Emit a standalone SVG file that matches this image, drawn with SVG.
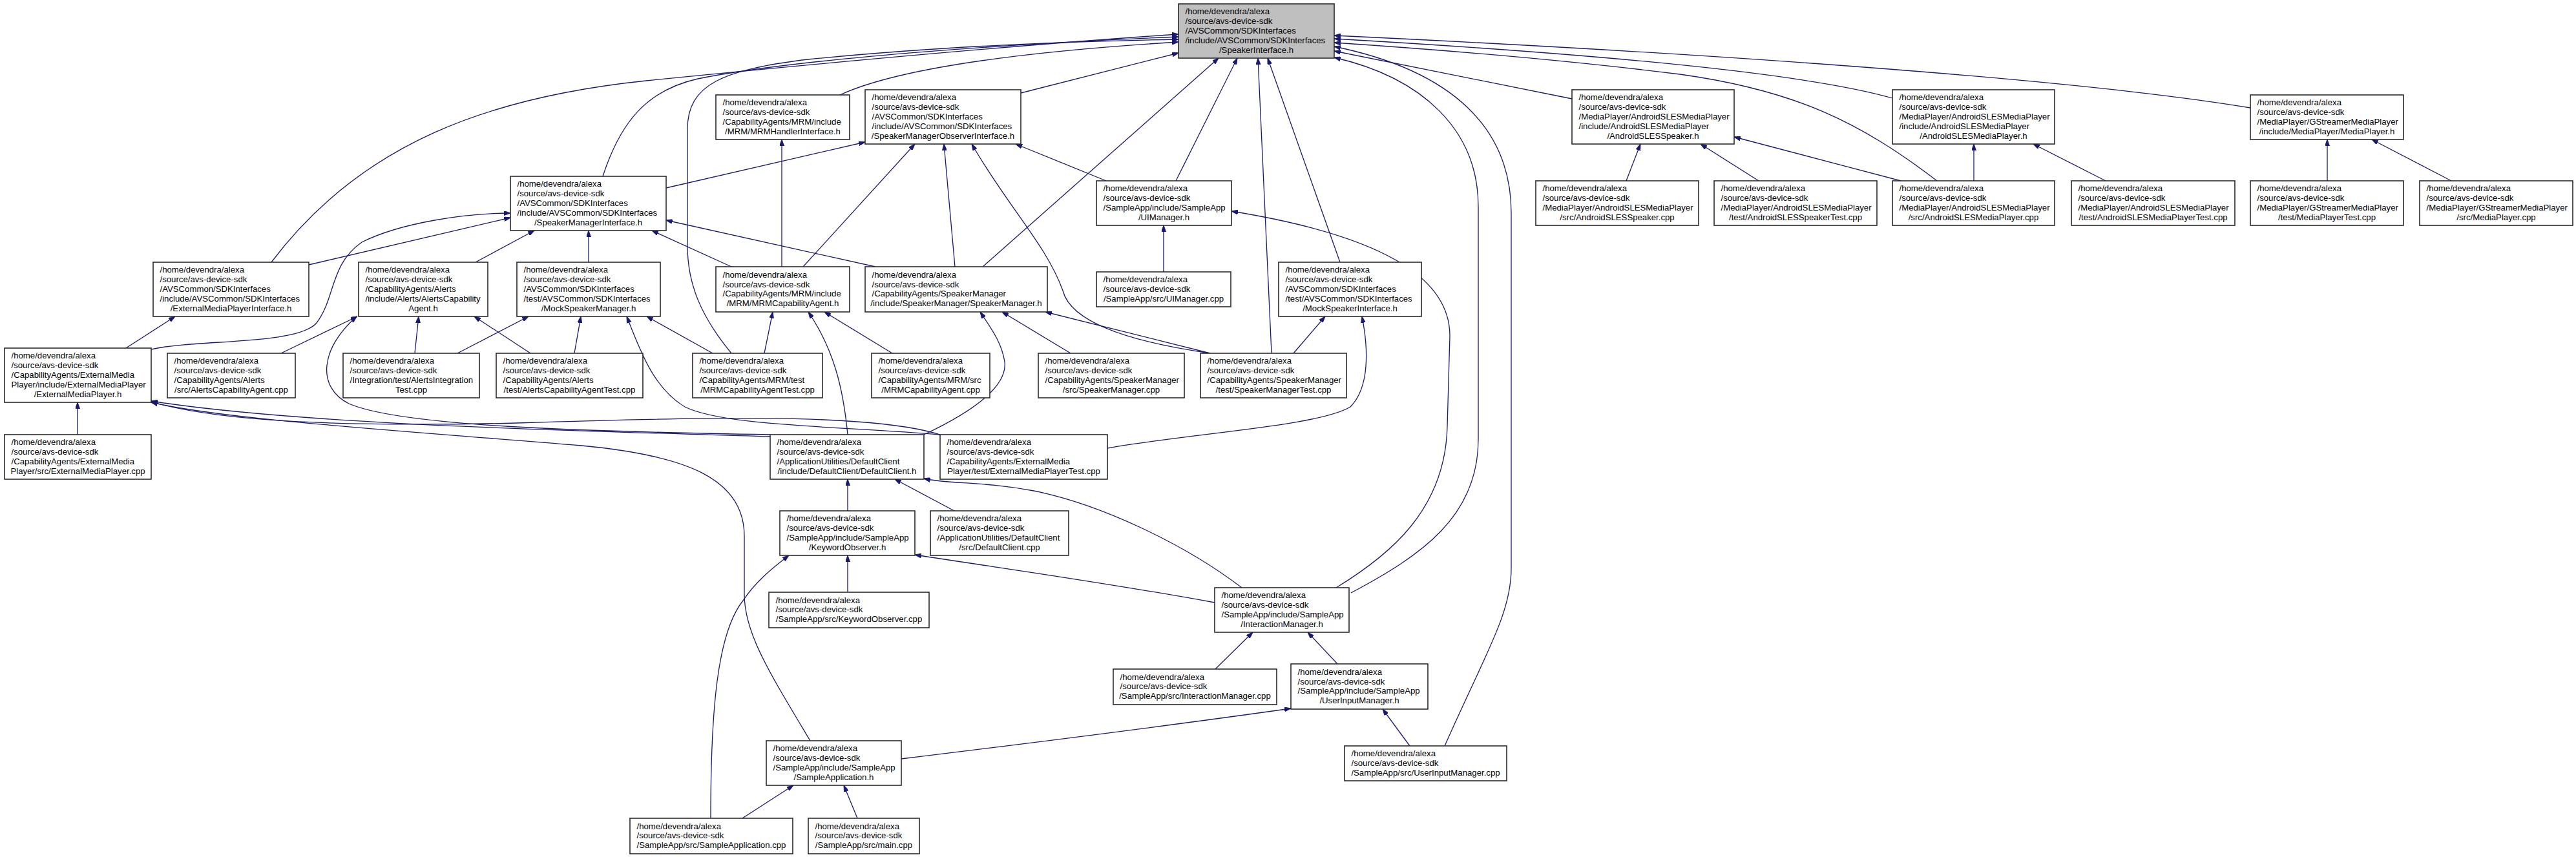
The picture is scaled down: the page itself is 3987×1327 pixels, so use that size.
<svg xmlns="http://www.w3.org/2000/svg" width="3987" height="1327" viewBox="0 0 3987 1327">
<style>
.n rect{fill:#ffffff;stroke:#2a2a2a;stroke-width:1.6}
.n.g rect{fill:#bfbfbf}
.n text{font-family:"Liberation Sans",Arial,sans-serif;font-size:13.2px;fill:#000}
.c{text-anchor:middle}
#edges path{fill:none;stroke:#191970;stroke-width:1.3;marker-end:url(#a)}
</style>
<defs>
<marker id="a" markerUnits="userSpaceOnUse" viewBox="0 0 10 7" refX="10" refY="3.5" markerWidth="10" markerHeight="7" orient="auto"><path d="M0,0 L10,3.5 L0,7 z" fill="#191970" stroke="#191970" stroke-width="1"/></marker>
</defs>
<rect width="3987" height="1327" fill="#ffffff"/>
<g id="edges">
<path d="M420,406 C560,220 760,150 1000,125 C1300,95 1600,68 1824,53"/>
<path d="M933,273 C960,190 1000,140 1080,122 C1250,88 1600,66 1824,57"/>
<path d="M1132,547 C1085,490 1064,440 1064,380 L1064,200 C1064,130 1120,108 1250,92 C1450,72 1650,64 1824,61"/>
<path d="M1300,147 C1380,110 1550,82 1824,65"/>
<path d="M1580,144 L1824,82"/>
<path d="M2433,153 L2065,79"/>
<path d="M2929,152 C2800,115 2500,85 2065,60"/>
<path d="M3483,167 C3200,120 2600,80 2065,55"/>
<path d="M2998,280 C2880,190 2780,140 2600,115 C2400,90 2200,75 2065,66"/>
<path d="M2091,918 C2200,860 2288,800 2288,680 L2288,320 C2288,200 2200,120 2065,89"/>
<path d="M2068,910 C2150,860 2237,790 2240,660 L2244,520 C2244,430 2140,365 1906,327"/>
<path d="M2236,1155 C2300,1010 2339,950 2339,880 L2339,330 C2339,200 2250,110 2065,72"/>
<path d="M1521,413 L1886,90"/>
<path d="M1820,280 L1915,90"/>
<path d="M1968,547 L1947,90"/>
<path d="M2074,406 L1962,90"/>
<path d="M1031,291 L1339,220"/>
<path d="M1243,413 L1416,223"/>
<path d="M1478,413 L1461,223"/>
<path d="M1873,547 C1720,525 1655,490 1645,450 C1620,380 1560,320 1504,223"/>
<path d="M1712,280 L1572,223"/>
<path d="M478,410 L790,337"/>
<path d="M234,541 C300,525 460,535 490,500 C520,460 510,410 560,375 C620,345 720,330 790,330"/>
<path d="M736,406 L827,357"/>
<path d="M911,406 L911,357"/>
<path d="M1132,413 L1009,357"/>
<path d="M1355,413 L1031,341"/>
<path d="M1210,413 L1210,216"/>
<path d="M435,547 L553,490"/>
<path d="M642,547 L648,490"/>
<path d="M821,547 L734,490"/>
<path d="M1192,673 C900,668 620,660 540,625 C490,600 495,540 552,490"/>
<path d="M708,547 L818,490"/>
<path d="M889,547 L899,490"/>
<path d="M1103,547 L1001,490"/>
<path d="M1455,673 C1300,660 1120,660 1060,630 C1010,600 990,540 970,490"/>
<path d="M1183,547 L1196,483"/>
<path d="M1381,547 L1276,483"/>
<path d="M1312,673 C1305,600 1290,540 1251,483"/>
<path d="M195,539 L271,490"/>
<path d="M120,673 L120,623"/>
<path d="M1192,676 C950,668 480,660 234,621"/>
<path d="M1455,673 C1350,640 1100,645 800,655 C500,662 330,650 234,622"/>
<path d="M1254,1147 C1190,1040 1152,980 1152,920 L1152,830 C1152,740 1060,705 900,690 C600,665 350,650 234,623"/>
<path d="M1657,547 L1551,483"/>
<path d="M1873,547 L1618,483"/>
<path d="M1430,673 C1500,640 1560,600 1555,560 C1550,530 1535,510 1517,483"/>
<path d="M2002,547 L2051,490"/>
<path d="M1714,694 C1850,670 2040,660 2090,630 C2120,600 2118,540 2108,490"/>
<path d="M1801,421 L1801,349"/>
<path d="M1312,791 L1312,742"/>
<path d="M1477,791 L1385,742"/>
<path d="M1922,910 C1830,840 1700,780 1600,760 C1520,745 1470,750 1430,741"/>
<path d="M1312,917 L1312,860"/>
<path d="M1880,933 C1700,900 1550,880 1416,859"/>
<path d="M1100,1267 C1100,1100 1110,980 1150,930 C1170,900 1195,880 1221,860"/>
<path d="M1881,1036 L1939,979"/>
<path d="M2070,1028 L2024,979"/>
<path d="M2182,1155 L2140,1098"/>
<path d="M1395,1175 C1600,1150 1800,1125 1998,1097"/>
<path d="M1149,1267 L1228,1216"/>
<path d="M1327,1267 L1306,1216"/>
<path d="M2517,280 L2539,223"/>
<path d="M2722,280 L2632,223"/>
<path d="M2942,280 L2684,212"/>
<path d="M3055,280 L3055,223"/>
<path d="M3259,280 L3147,223"/>
<path d="M3602,280 L3602,216"/>
<path d="M3794,280 L3671,216"/>
</g>
<g id="n0" class="n g"><rect x="1824" y="6" width="241" height="84"/><text><tspan x="1834.5" y="22.3">/home/devendra/alexa</tspan><tspan x="1834.5" y="37.1">/source/avs-device-sdk</tspan><tspan x="1834.5" y="51.9">/AVSCommon/SDKInterfaces</tspan><tspan x="1834.5" y="66.7">/include/AVSCommon/SDKInterfaces</tspan><tspan class="c" x="1944.5" y="81.5">/SpeakerInterface.h</tspan></text></g>
<g id="n1" class="n"><rect x="1108" y="147" width="207" height="69"/><text><tspan x="1118.5" y="163.2">/home/devendra/alexa</tspan><tspan x="1118.5" y="178">/source/avs-device-sdk</tspan><tspan x="1118.5" y="192.8">/CapabilityAgents/MRM/include</tspan><tspan class="c" x="1211.5" y="207.6">/MRM/MRMHandlerInterface.h</tspan></text></g>
<g id="n2" class="n"><rect x="1339" y="139" width="241" height="84"/><text><tspan x="1349.5" y="155.3">/home/devendra/alexa</tspan><tspan x="1349.5" y="170.1">/source/avs-device-sdk</tspan><tspan x="1349.5" y="184.9">/AVSCommon/SDKInterfaces</tspan><tspan x="1349.5" y="199.7">/include/AVSCommon/SDKInterfaces</tspan><tspan class="c" x="1459.5" y="214.5">/SpeakerManagerObserverInterface.h</tspan></text></g>
<g id="n3" class="n"><rect x="2433" y="139" width="251" height="84"/><text><tspan x="2443.5" y="155.3">/home/devendra/alexa</tspan><tspan x="2443.5" y="170.1">/source/avs-device-sdk</tspan><tspan x="2443.5" y="184.9">/MediaPlayer/AndroidSLESMediaPlayer</tspan><tspan x="2443.5" y="199.7">/include/AndroidSLESMediaPlayer</tspan><tspan class="c" x="2558.5" y="214.5">/AndroidSLESSpeaker.h</tspan></text></g>
<g id="n4" class="n"><rect x="2929" y="139" width="251" height="84"/><text><tspan x="2939.5" y="155.3">/home/devendra/alexa</tspan><tspan x="2939.5" y="170.1">/source/avs-device-sdk</tspan><tspan x="2939.5" y="184.9">/MediaPlayer/AndroidSLESMediaPlayer</tspan><tspan x="2939.5" y="199.7">/include/AndroidSLESMediaPlayer</tspan><tspan class="c" x="3054.5" y="214.5">/AndroidSLESMediaPlayer.h</tspan></text></g>
<g id="n5" class="n"><rect x="3483" y="147" width="237" height="69"/><text><tspan x="3493.5" y="163.2">/home/devendra/alexa</tspan><tspan x="3493.5" y="178">/source/avs-device-sdk</tspan><tspan x="3493.5" y="192.8">/MediaPlayer/GStreamerMediaPlayer</tspan><tspan class="c" x="3601.5" y="207.6">/include/MediaPlayer/MediaPlayer.h</tspan></text></g>
<g id="n6" class="n"><rect x="790" y="273" width="241" height="84"/><text><tspan x="800.5" y="289.3">/home/devendra/alexa</tspan><tspan x="800.5" y="304.1">/source/avs-device-sdk</tspan><tspan x="800.5" y="318.9">/AVSCommon/SDKInterfaces</tspan><tspan x="800.5" y="333.7">/include/AVSCommon/SDKInterfaces</tspan><tspan class="c" x="910.5" y="348.5">/SpeakerManagerInterface.h</tspan></text></g>
<g id="n7" class="n"><rect x="1697" y="280" width="209" height="69"/><text><tspan x="1707.5" y="296.2">/home/devendra/alexa</tspan><tspan x="1707.5" y="311">/source/avs-device-sdk</tspan><tspan x="1707.5" y="325.8">/SampleApp/include/SampleApp</tspan><tspan class="c" x="1801.5" y="340.6">/UIManager.h</tspan></text></g>
<g id="n8" class="n"><rect x="2377" y="280" width="252" height="69"/><text><tspan x="2387.5" y="296.2">/home/devendra/alexa</tspan><tspan x="2387.5" y="311">/source/avs-device-sdk</tspan><tspan x="2387.5" y="325.8">/MediaPlayer/AndroidSLESMediaPlayer</tspan><tspan class="c" x="2503" y="340.6">/src/AndroidSLESSpeaker.cpp</tspan></text></g>
<g id="n9" class="n"><rect x="2653" y="280" width="252" height="69"/><text><tspan x="2663.5" y="296.2">/home/devendra/alexa</tspan><tspan x="2663.5" y="311">/source/avs-device-sdk</tspan><tspan x="2663.5" y="325.8">/MediaPlayer/AndroidSLESMediaPlayer</tspan><tspan class="c" x="2779" y="340.6">/test/AndroidSLESSpeakerTest.cpp</tspan></text></g>
<g id="n10" class="n"><rect x="2929" y="280" width="251" height="69"/><text><tspan x="2939.5" y="296.2">/home/devendra/alexa</tspan><tspan x="2939.5" y="311">/source/avs-device-sdk</tspan><tspan x="2939.5" y="325.8">/MediaPlayer/AndroidSLESMediaPlayer</tspan><tspan class="c" x="3054.5" y="340.6">/src/AndroidSLESMediaPlayer.cpp</tspan></text></g>
<g id="n11" class="n"><rect x="3206" y="280" width="253" height="69"/><text><tspan x="3216.5" y="296.2">/home/devendra/alexa</tspan><tspan x="3216.5" y="311">/source/avs-device-sdk</tspan><tspan x="3216.5" y="325.8">/MediaPlayer/AndroidSLESMediaPlayer</tspan><tspan class="c" x="3332.5" y="340.6">/test/AndroidSLESMediaPlayerTest.cpp</tspan></text></g>
<g id="n12" class="n"><rect x="3483" y="280" width="237" height="69"/><text><tspan x="3493.5" y="296.2">/home/devendra/alexa</tspan><tspan x="3493.5" y="311">/source/avs-device-sdk</tspan><tspan x="3493.5" y="325.8">/MediaPlayer/GStreamerMediaPlayer</tspan><tspan class="c" x="3601.5" y="340.6">/test/MediaPlayerTest.cpp</tspan></text></g>
<g id="n13" class="n"><rect x="3745" y="280" width="237" height="69"/><text><tspan x="3755.5" y="296.2">/home/devendra/alexa</tspan><tspan x="3755.5" y="311">/source/avs-device-sdk</tspan><tspan x="3755.5" y="325.8">/MediaPlayer/GStreamerMediaPlayer</tspan><tspan class="c" x="3863.5" y="340.6">/src/MediaPlayer.cpp</tspan></text></g>
<g id="n14" class="n"><rect x="237" y="406" width="241" height="84"/><text><tspan x="247.5" y="422.3">/home/devendra/alexa</tspan><tspan x="247.5" y="437.1">/source/avs-device-sdk</tspan><tspan x="247.5" y="451.9">/AVSCommon/SDKInterfaces</tspan><tspan x="247.5" y="466.7">/include/AVSCommon/SDKInterfaces</tspan><tspan class="c" x="357.5" y="481.5">/ExternalMediaPlayerInterface.h</tspan></text></g>
<g id="n15" class="n"><rect x="555" y="406" width="200" height="84"/><text><tspan x="565.5" y="422.3">/home/devendra/alexa</tspan><tspan x="565.5" y="437.1">/source/avs-device-sdk</tspan><tspan x="565.5" y="451.9">/CapabilityAgents/Alerts</tspan><tspan x="565.5" y="466.7">/include/Alerts/AlertsCapability</tspan><tspan class="c" x="655" y="481.5">Agent.h</tspan></text></g>
<g id="n16" class="n"><rect x="800" y="406" width="222" height="84"/><text><tspan x="810.5" y="422.3">/home/devendra/alexa</tspan><tspan x="810.5" y="437.1">/source/avs-device-sdk</tspan><tspan x="810.5" y="451.9">/AVSCommon/SDKInterfaces</tspan><tspan x="810.5" y="466.7">/test/AVSCommon/SDKInterfaces</tspan><tspan class="c" x="911" y="481.5">/MockSpeakerManager.h</tspan></text></g>
<g id="n17" class="n"><rect x="1108" y="413" width="207" height="70"/><text><tspan x="1118.5" y="429.7">/home/devendra/alexa</tspan><tspan x="1118.5" y="444.5">/source/avs-device-sdk</tspan><tspan x="1118.5" y="459.3">/CapabilityAgents/MRM/include</tspan><tspan class="c" x="1211.5" y="474.1">/MRM/MRMCapabilityAgent.h</tspan></text></g>
<g id="n18" class="n"><rect x="1339" y="413" width="282" height="70"/><text><tspan x="1349.5" y="429.7">/home/devendra/alexa</tspan><tspan x="1349.5" y="444.5">/source/avs-device-sdk</tspan><tspan x="1349.5" y="459.3">/CapabilityAgents/SpeakerManager</tspan><tspan class="c" x="1480" y="474.1">/include/SpeakerManager/SpeakerManager.h</tspan></text></g>
<g id="n19" class="n"><rect x="1697" y="421" width="208" height="54"/><text><tspan x="1707.5" y="437.1">/home/devendra/alexa</tspan><tspan x="1707.5" y="451.9">/source/avs-device-sdk</tspan><tspan class="c" x="1801" y="466.7">/SampleApp/src/UIManager.cpp</tspan></text></g>
<g id="n20" class="n"><rect x="1979" y="406" width="221" height="84"/><text><tspan x="1989.5" y="422.3">/home/devendra/alexa</tspan><tspan x="1989.5" y="437.1">/source/avs-device-sdk</tspan><tspan x="1989.5" y="451.9">/AVSCommon/SDKInterfaces</tspan><tspan x="1989.5" y="466.7">/test/AVSCommon/SDKInterfaces</tspan><tspan class="c" x="2089.5" y="481.5">/MockSpeakerInterface.h</tspan></text></g>
<g id="n21" class="n"><rect x="7" y="539" width="227" height="84"/><text><tspan x="17.5" y="555.3">/home/devendra/alexa</tspan><tspan x="17.5" y="570.1">/source/avs-device-sdk</tspan><tspan x="17.5" y="584.9">/CapabilityAgents/ExternalMedia</tspan><tspan x="17.5" y="599.7">Player/include/ExternalMediaPlayer</tspan><tspan class="c" x="120.5" y="614.5">/ExternalMediaPlayer.h</tspan></text></g>
<g id="n22" class="n"><rect x="259" y="547" width="198" height="69"/><text><tspan x="269.5" y="563.2">/home/devendra/alexa</tspan><tspan x="269.5" y="578">/source/avs-device-sdk</tspan><tspan x="269.5" y="592.8">/CapabilityAgents/Alerts</tspan><tspan class="c" x="358" y="607.6">/src/AlertsCapabilityAgent.cpp</tspan></text></g>
<g id="n23" class="n"><rect x="531" y="547" width="211" height="69"/><text><tspan x="541.5" y="563.2">/home/devendra/alexa</tspan><tspan x="541.5" y="578">/source/avs-device-sdk</tspan><tspan x="541.5" y="592.8">/Integration/test/AlertsIntegration</tspan><tspan class="c" x="636.5" y="607.6">Test.cpp</tspan></text></g>
<g id="n24" class="n"><rect x="768" y="547" width="227" height="69"/><text><tspan x="778.5" y="563.2">/home/devendra/alexa</tspan><tspan x="778.5" y="578">/source/avs-device-sdk</tspan><tspan x="778.5" y="592.8">/CapabilityAgents/Alerts</tspan><tspan class="c" x="881.5" y="607.6">/test/AlertsCapabilityAgentTest.cpp</tspan></text></g>
<g id="n25" class="n"><rect x="1072" y="547" width="201" height="69"/><text><tspan x="1082.5" y="563.2">/home/devendra/alexa</tspan><tspan x="1082.5" y="578">/source/avs-device-sdk</tspan><tspan x="1082.5" y="592.8">/CapabilityAgents/MRM/test</tspan><tspan class="c" x="1172.5" y="607.6">/MRMCapabilityAgentTest.cpp</tspan></text></g>
<g id="n26" class="n"><rect x="1349" y="547" width="183" height="69"/><text><tspan x="1359.5" y="563.2">/home/devendra/alexa</tspan><tspan x="1359.5" y="578">/source/avs-device-sdk</tspan><tspan x="1359.5" y="592.8">/CapabilityAgents/MRM/src</tspan><tspan class="c" x="1440.5" y="607.6">/MRMCapabilityAgent.cpp</tspan></text></g>
<g id="n27" class="n"><rect x="1607" y="547" width="226" height="69"/><text><tspan x="1617.5" y="563.2">/home/devendra/alexa</tspan><tspan x="1617.5" y="578">/source/avs-device-sdk</tspan><tspan x="1617.5" y="592.8">/CapabilityAgents/SpeakerManager</tspan><tspan class="c" x="1720" y="607.6">/src/SpeakerManager.cpp</tspan></text></g>
<g id="n28" class="n"><rect x="1858" y="547" width="226" height="69"/><text><tspan x="1868.5" y="563.2">/home/devendra/alexa</tspan><tspan x="1868.5" y="578">/source/avs-device-sdk</tspan><tspan x="1868.5" y="592.8">/CapabilityAgents/SpeakerManager</tspan><tspan class="c" x="1971" y="607.6">/test/SpeakerManagerTest.cpp</tspan></text></g>
<g id="n29" class="n"><rect x="7" y="673" width="227" height="69"/><text><tspan x="17.5" y="689.2">/home/devendra/alexa</tspan><tspan x="17.5" y="704">/source/avs-device-sdk</tspan><tspan x="17.5" y="718.8">/CapabilityAgents/ExternalMedia</tspan><tspan class="c" x="120.5" y="733.6">Player/src/ExternalMediaPlayer.cpp</tspan></text></g>
<g id="n30" class="n"><rect x="1192" y="673" width="238" height="69"/><text><tspan x="1202.5" y="689.2">/home/devendra/alexa</tspan><tspan x="1202.5" y="704">/source/avs-device-sdk</tspan><tspan x="1202.5" y="718.8">/ApplicationUtilities/DefaultClient</tspan><tspan class="c" x="1311" y="733.6">/include/DefaultClient/DefaultClient.h</tspan></text></g>
<g id="n31" class="n"><rect x="1455" y="673" width="259" height="69"/><text><tspan x="1465.5" y="689.2">/home/devendra/alexa</tspan><tspan x="1465.5" y="704">/source/avs-device-sdk</tspan><tspan x="1465.5" y="718.8">/CapabilityAgents/ExternalMedia</tspan><tspan class="c" x="1584.5" y="733.6">Player/test/ExternalMediaPlayerTest.cpp</tspan></text></g>
<g id="n32" class="n"><rect x="1207" y="791" width="209" height="69"/><text><tspan x="1217.5" y="807.2">/home/devendra/alexa</tspan><tspan x="1217.5" y="822">/source/avs-device-sdk</tspan><tspan x="1217.5" y="836.8">/SampleApp/include/SampleApp</tspan><tspan class="c" x="1311.5" y="851.6">/KeywordObserver.h</tspan></text></g>
<g id="n33" class="n"><rect x="1440" y="791" width="214" height="69"/><text><tspan x="1450.5" y="807.2">/home/devendra/alexa</tspan><tspan x="1450.5" y="822">/source/avs-device-sdk</tspan><tspan x="1450.5" y="836.8">/ApplicationUtilities/DefaultClient</tspan><tspan class="c" x="1547" y="851.6">/src/DefaultClient.cpp</tspan></text></g>
<g id="n34" class="n"><rect x="1190" y="917" width="248" height="55"/><text><tspan x="1200.5" y="933.6">/home/devendra/alexa</tspan><tspan x="1200.5" y="948.4">/source/avs-device-sdk</tspan><tspan class="c" x="1314" y="963.2">/SampleApp/src/KeywordObserver.cpp</tspan></text></g>
<g id="n35" class="n"><rect x="1880" y="910" width="208" height="69"/><text><tspan x="1890.5" y="926.2">/home/devendra/alexa</tspan><tspan x="1890.5" y="941">/source/avs-device-sdk</tspan><tspan x="1890.5" y="955.8">/SampleApp/include/SampleApp</tspan><tspan class="c" x="1984" y="970.6">/InteractionManager.h</tspan></text></g>
<g id="n36" class="n"><rect x="1723" y="1036" width="253" height="55"/><text><tspan x="1733.5" y="1052.6">/home/devendra/alexa</tspan><tspan x="1733.5" y="1067.4">/source/avs-device-sdk</tspan><tspan class="c" x="1849.5" y="1082.2">/SampleApp/src/InteractionManager.cpp</tspan></text></g>
<g id="n37" class="n"><rect x="1998" y="1028" width="212" height="70"/><text><tspan x="2008.5" y="1044.7">/home/devendra/alexa</tspan><tspan x="2008.5" y="1059.5">/source/avs-device-sdk</tspan><tspan x="2008.5" y="1074.3">/SampleApp/include/SampleApp</tspan><tspan class="c" x="2104" y="1089.1">/UserInputManager.h</tspan></text></g>
<g id="n38" class="n"><rect x="2081" y="1155" width="251" height="54"/><text><tspan x="2091.5" y="1171.1">/home/devendra/alexa</tspan><tspan x="2091.5" y="1185.9">/source/avs-device-sdk</tspan><tspan class="c" x="2206.5" y="1200.7">/SampleApp/src/UserInputManager.cpp</tspan></text></g>
<g id="n39" class="n"><rect x="1186" y="1147" width="209" height="69"/><text><tspan x="1196.5" y="1163.2">/home/devendra/alexa</tspan><tspan x="1196.5" y="1178">/source/avs-device-sdk</tspan><tspan x="1196.5" y="1192.8">/SampleApp/include/SampleApp</tspan><tspan class="c" x="1290.5" y="1207.6">/SampleApplication.h</tspan></text></g>
<g id="n40" class="n"><rect x="975" y="1267" width="252" height="55"/><text><tspan x="985.5" y="1283.6">/home/devendra/alexa</tspan><tspan x="985.5" y="1298.4">/source/avs-device-sdk</tspan><tspan class="c" x="1101" y="1313.2">/SampleApp/src/SampleApplication.cpp</tspan></text></g>
<g id="n41" class="n"><rect x="1251" y="1267" width="172" height="55"/><text><tspan x="1261.5" y="1283.6">/home/devendra/alexa</tspan><tspan x="1261.5" y="1298.4">/source/avs-device-sdk</tspan><tspan class="c" x="1337" y="1313.2">/SampleApp/src/main.cpp</tspan></text></g>
</svg>
